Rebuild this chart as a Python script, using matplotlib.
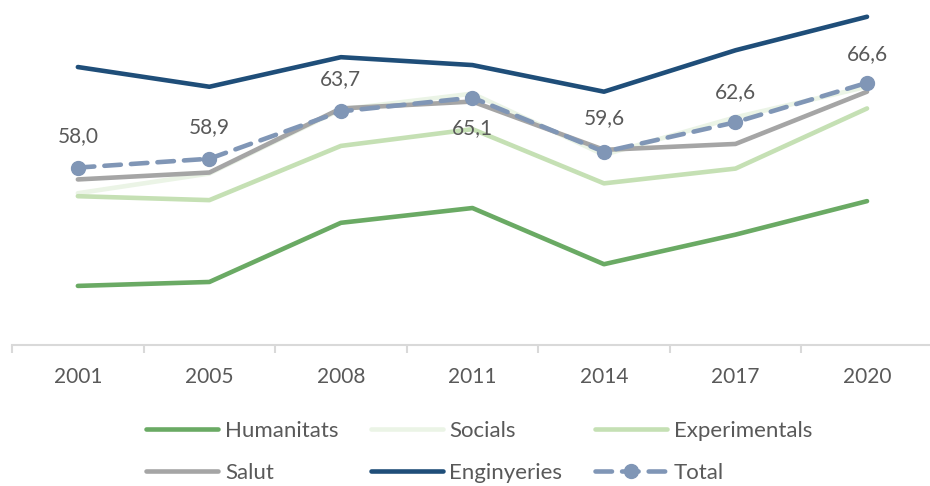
import matplotlib
matplotlib.use("Agg")
import matplotlib.pyplot as plt

years = ["2001", "2005", "2008", "2011", "2014", "2017", "2020"]
humanitats = [46.0, 46.4, 52.4, 53.9, 48.2, 51.2, 54.6]
socials = [55.4, 57.4, 63.9, 65.5, 59.3, 63.1, 66.2]
experimentals = [55.1, 54.7, 60.2, 61.9, 56.4, 57.9, 64.0]
salut = [56.8, 57.5, 64.0, 64.7, 59.8, 60.4, 65.7]
enginyeries = [68.2, 66.2, 69.2, 68.4, 65.7, 69.9, 73.3]
total = [58.0, 58.9, 63.7, 65.1, 59.6, 62.6, 66.6]
total_labels = ["58,0", "58,9", "63,7", "65,1", "59,6", "62,6", "66,6"]

label_offsets = [23, 23, 23, -22, 24, 22, 21]  # points

plt.rcParams['font.family'] = ['Lato', 'DejaVu Sans']
txt = '#595959'

fig = plt.figure(figsize=(9.3, 4.86), dpi=100)
ax = fig.add_axes([0.013, 0.29, 0.990, 0.71])

x = list(range(len(years)))
lw = 3.3
h1, = ax.plot(x, humanitats, color='#6aaa64', lw=lw, label='Humanitats', solid_capstyle='round')
h2, = ax.plot(x, socials, color='#ebf4e6', lw=lw, label='Socials', solid_capstyle='round')
h3, = ax.plot(x, experimentals, color='#c5e0b4', lw=lw, label='Experimentals', solid_capstyle='round')
h4, = ax.plot(x, salut, color='#a5a5a5', lw=lw, label='Salut', solid_capstyle='round')
h5, = ax.plot(x, enginyeries, color='#1f4e79', lw=lw, label='Enginyeries', solid_capstyle='round')
h6, = ax.plot(x, total, color='#8096b6', lw=lw, dashes=(3.6, 2.2), dash_capstyle='round',
              marker='o', markersize=10, label='Total')

for xi, v, lab, off in zip(x, total, total_labels, label_offsets):
    ax.annotate(lab, (xi, v), xytext=(0, off), textcoords='offset points',
                ha='center', va='center', fontsize=15, color=txt)

ax.set_xlim(-0.5, 6.5)
ax.set_ylim(40, 75)
ax.set_yticks([])
for s in ['top', 'right', 'left']:
    ax.spines[s].set_visible(False)
ax.spines['bottom'].set_color('#d9d9d9')
ax.spines['bottom'].set_linewidth(1.5)
ax.set_xticks(x)
ax.set_xticklabels(years)
ax.tick_params(axis='x', which='major', length=0, pad=16, labelsize=15, labelcolor=txt)
ax.set_xticks([i - 0.5 for i in range(len(years) + 1)], minor=True)
ax.tick_params(axis='x', which='minor', length=6, width=1.5, color='#d9d9d9')

handles = [h1, h4, h2, h5, h3, h6]
leg = fig.legend(handles=handles, labels=[h.get_label() for h in handles],
                 loc='center', bbox_to_anchor=(0.515, 0.070), ncol=3, frameon=False,
                 fontsize=16, handlelength=3.25, handletextpad=0.3, columnspacing=1.45,
                 labelspacing=1.0, numpoints=1)
for t in leg.get_texts():
    t.set_color(txt)

fig.savefig('out.png', dpi=100)
